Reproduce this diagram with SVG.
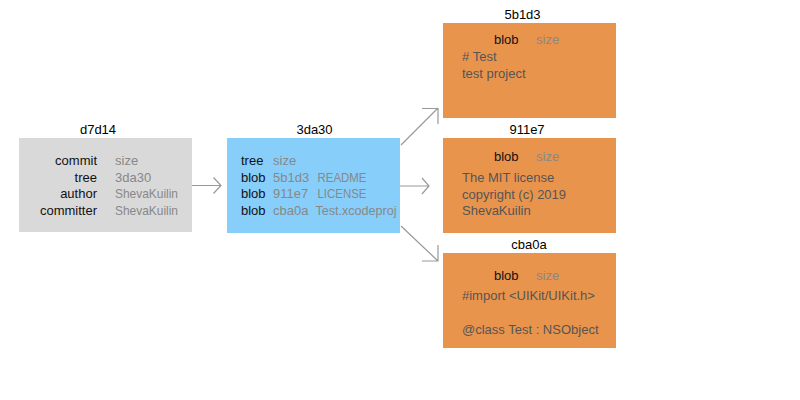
<svg xmlns="http://www.w3.org/2000/svg" width="800" height="400" viewBox="0 0 800 400">
<style>
text { font-family: "Liberation Sans", Arial, sans-serif; font-size: 13px; }
.title { fill: #000; text-anchor: middle; }
.lbl { fill: #111; }
.r { text-anchor: end; }
.val { fill: #888; }
.body { fill: #555; }
.commit { fill: #d9d9d9; }
.tree { fill: #87cefa; }
.blob { fill: #e9944d; }
.conn { fill: none; stroke: #999; stroke-width: 1.2; }
</style>
<rect width="800" height="400" fill="#fff"/>
<g id="commit-d7d14">
  <text class="title" x="98" y="134">d7d14</text>
  <rect class="commit" x="19" y="138" width="173" height="94"/>
  <text class="lbl r" x="97" y="165">commit</text>
  <text class="lbl r" x="97" y="181.5">tree</text>
  <text class="lbl r" x="97" y="198">author</text>
  <text class="lbl r" x="97" y="214.5">committer</text>
  <text class="val" x="115" y="165">size</text>
  <text class="val" x="115" y="181.5">3da30</text>
  <text class="val" x="115" y="198" textLength="63" lengthAdjust="spacingAndGlyphs">ShevaKuilin</text>
  <text class="val" x="115" y="214.5" textLength="63" lengthAdjust="spacingAndGlyphs">ShevaKuilin</text>
</g>
<g id="tree-3da30">
  <text class="title" x="314.5" y="134">3da30</text>
  <rect class="tree" x="227" y="138" width="173" height="95"/>
  <text class="lbl" x="241" y="165">tree</text>
  <text class="lbl" x="241" y="181.5">blob</text>
  <text class="lbl" x="241" y="198">blob</text>
  <text class="lbl" x="241" y="214.5">blob</text>
  <text class="val" x="273" y="165">size</text>
  <text class="val" x="273" y="181.5">5b1d3</text>
  <text class="val" x="273" y="198">911e7</text>
  <text class="val" x="273" y="214.5">cba0a</text>
  <text class="val" x="317.5" y="181.5" textLength="49" lengthAdjust="spacingAndGlyphs">README</text>
  <text class="val" x="317.5" y="198" textLength="49" lengthAdjust="spacingAndGlyphs">LICENSE</text>
  <text class="val" x="315.5" y="214.5" textLength="81" lengthAdjust="spacingAndGlyphs">Test.xcodeproj</text>
</g>
<g id="blob-5b1d3">
  <text class="title" x="522.5" y="18.5">5b1d3</text>
  <rect class="blob" x="443" y="23" width="173" height="95"/>
  <text class="lbl" x="494" y="44">blob</text>
  <text class="val" x="536" y="44">size</text>
  <text class="body" x="462" y="61">#&#160;Test</text>
  <text class="body" x="462" y="77.5">test project</text>
</g>
<g id="blob-911e7">
  <text class="title" x="527" y="134">911e7</text>
  <rect class="blob" x="443" y="138" width="173" height="95"/>
  <text class="lbl" x="494" y="160.5">blob</text>
  <text class="val" x="536" y="160.5">size</text>
  <text class="body" x="462" y="182">The MIT license</text>
  <text class="body" x="462" y="198.5">copyright (c) 2019</text>
  <text class="body" x="462" y="215">ShevaKuilin</text>
</g>
<g id="blob-cba0a">
  <text class="title" x="529" y="249">cba0a</text>
  <rect class="blob" x="443" y="253" width="173" height="95"/>
  <text class="lbl" x="494" y="279.5">blob</text>
  <text class="val" x="536" y="279.5">size</text>
  <text class="body" x="462" y="299.5">#import &lt;UIKit/UIKit.h&gt;</text>
  <text class="body" x="462" y="333.5">@class Test : NSObject</text>
</g>
<g id="connectors">
  <path class="conn" d="M192 185.5 H221 M213.5 177.5 L221 185.5 L213.5 193.5"/>
  <path class="conn" d="M401 145 L438 108 M422 108.5 H438 V124"/>
  <path class="conn" d="M400 186 H429 M422 178 L429 186 L422 194"/>
  <path class="conn" d="M401 226 L438 261 M438 245 V261 H422"/>
</g>
</svg>
